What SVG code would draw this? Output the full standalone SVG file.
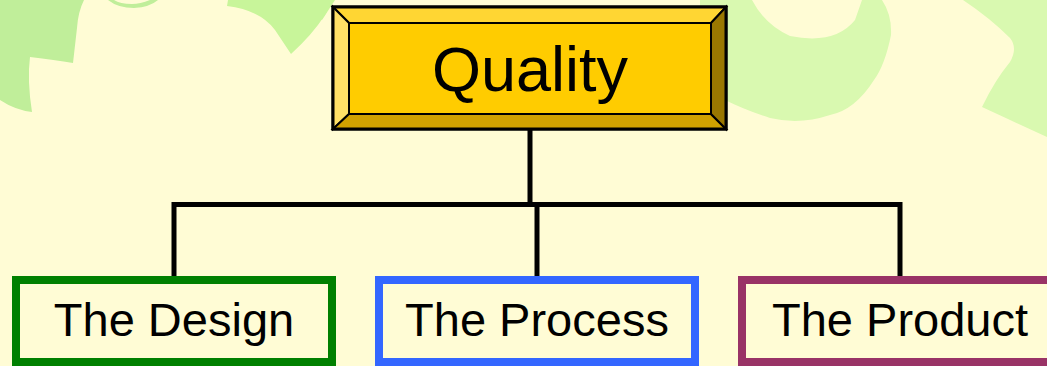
<svg xmlns="http://www.w3.org/2000/svg" width="1047" height="366" viewBox="0 0 1047 366">
<style>
.bg{fill:#FFFCD5}
.blobA{fill:#C0EE9A}
.blobB{fill:#D9F9B0}
.bev{stroke:#000;stroke-width:2;stroke-linejoin:miter}
.lnk{fill:none;stroke:#000;stroke-width:5;stroke-linecap:butt;stroke-linejoin:miter}
.child{fill:#FFFCD5;stroke-width:8}
.t{font-family:"Liberation Sans",Arial,sans-serif;fill:#000;text-anchor:middle}
</style>
<rect class="bg" x="0" y="0" width="1047" height="366"/>
<g id="background">
<path class="blobA" d="M0,0 L84,0 Q78,12 77,28 L73,63 Q55,60 30,57 Q27,80 32,112 Q15,110 0,100 Z"/>
<path class="blobA" d="M108,0 Q118,8 134,8 Q150,7 158,0 L150,0 Q140,4 132,4 Q120,4 114,0 Z"/>
<path fill="#C8F59A" d="M227,6 Q260,10 275,30 L291,54 Q312,35 325,15 L333,0 L228,0 Z"/>
<path fill="#C8F59A" d="M300,0 L335,0 L322,20 Z"/>
<path class="blobB" d="M700,0 L752,0 Q765,25 790,36 Q835,45 855,20 L862,0 L882,0 Q892,15 891,35 Q885,65 874,80 Q855,110 830,115 Q800,125 770,118 Q745,110 725,100 L700,100 Z"/>
<path class="blobB" d="M963,0 L1047,0 L1047,137 Q1010,120 982,107 Q995,80 1010,62 Q1018,48 1010,38 Q990,18 963,0 Z"/>
</g>
<g id="connectors">
<path class="lnk" d="M530,129 V204.5"/>
<path class="lnk" d="M174,276 V204.5 H900 V276"/>
<path class="lnk" d="M537,204.5 V276"/>
</g>
<g id="quality">
<rect x="333" y="7" width="393" height="122" fill="#FFCC00" stroke="#000" stroke-width="3"/>
<polygon class="bev" fill="#FFD633" points="333,7 726,7 711,23 349,23"/>
<polygon class="bev" fill="#FFE066" points="333,7 349,23 349,114 333,129"/>
<polygon class="bev" fill="#D1A200" points="333,129 349,114 711,114 726,129"/>
<polygon class="bev" fill="#997700" points="726,7 726,129 711,114 711,23"/>
<rect x="349" y="23" width="362" height="91" fill="#FFCC00" stroke="#000" stroke-width="2"/>
<rect x="333" y="7" width="393" height="122" fill="none" stroke="#000" stroke-width="3"/>
<text class="t" x="530" y="91" font-size="63">Quality</text>
</g>
<g id="design">
<rect class="child" x="16" y="280" width="316" height="82" stroke="#008000"/>
<text class="t" x="174" y="336" font-size="47">The Design</text>
</g>
<g id="process">
<rect class="child" x="379" y="280" width="316" height="82" stroke="#3366FF"/>
<text class="t" x="537" y="336" font-size="47">The Process</text>
</g>
<g id="product">
<rect class="child" x="742" y="280" width="316" height="82" stroke="#993366"/>
<text class="t" x="900" y="336" font-size="47">The Product</text>
</g>
</svg>
